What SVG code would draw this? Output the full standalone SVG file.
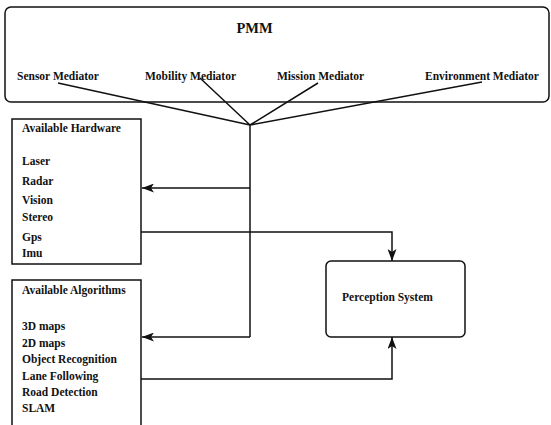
<svg xmlns="http://www.w3.org/2000/svg" width="551" height="425" viewBox="0 0 551 425">
<style>
text{font-weight:bold;font-size:11.5px;fill:#111}
.box{fill:#fff;stroke:#111;stroke-width:1.5}
.ln{fill:none;stroke:#111;stroke-width:1.5}
.ttl{font-size:14.5px}
</style>
<defs>
<marker id="ah" markerWidth="13" markerHeight="9" refX="12" refY="4.5" orient="auto" markerUnits="userSpaceOnUse">
<path d="M0,0 L12,4.5 L0,9 L3,4.5 z" fill="#111"/>
</marker>
</defs>
<rect width="551" height="425" fill="#fff"/>
<g font-family="Liberation Serif, DejaVu Serif, serif">
<g id="pmm">
<rect class="box" x="5" y="7" width="544" height="95" rx="6"/>
<text class="ttl" x="254.5" y="33" text-anchor="middle">PMM</text>
<text x="17" y="80">Sensor Mediator</text>
<text x="145" y="80">Mobility Mediator</text>
<text x="277" y="80">Mission Mediator</text>
<text x="425" y="80">Environment Mediator</text>
</g>
<g id="hardware">
<rect class="box" x="12" y="119" width="129" height="145"/>
<text x="22" y="132">Available Hardware</text>
<text x="22" y="165">Laser</text>
<text x="22" y="185">Radar</text>
<text x="22" y="204">Vision</text>
<text x="22" y="221">Stereo</text>
<text x="22" y="241">Gps</text>
<text x="22" y="257">Imu</text>
</g>
<g id="algorithms">
<rect class="box" x="12" y="280" width="129" height="160"/>
<text x="22" y="294">Available Algorithms</text>
<text x="22" y="330">3D maps</text>
<text x="22" y="347">2D maps</text>
<text x="22" y="363">Object Recognition</text>
<text x="22" y="380">Lane Following</text>
<text x="22" y="396">Road Detection</text>
<text x="22" y="412">SLAM</text>
</g>
<g id="perception">
<rect class="box" x="326" y="261" width="139" height="76" rx="5"/>
<text x="342" y="301">Perception System</text>
</g>
</g>
<g id="connectors">
<path class="ln" d="M58,83 L250,125 M200,78 L250,125 M318,83 L250,125 M482,82 L250,125"/>
<path class="ln" d="M250,125 L250,337"/>
<path class="ln" d="M250,188 L142,188" marker-end="url(#ah)"/>
<path class="ln" d="M250,337 L142,337" marker-end="url(#ah)"/>
<path class="ln" d="M141,232 L392,232 L392,261" marker-end="url(#ah)"/>
<path class="ln" d="M141,379 L392,379 L392,337" marker-end="url(#ah)"/>
</g>
</svg>
